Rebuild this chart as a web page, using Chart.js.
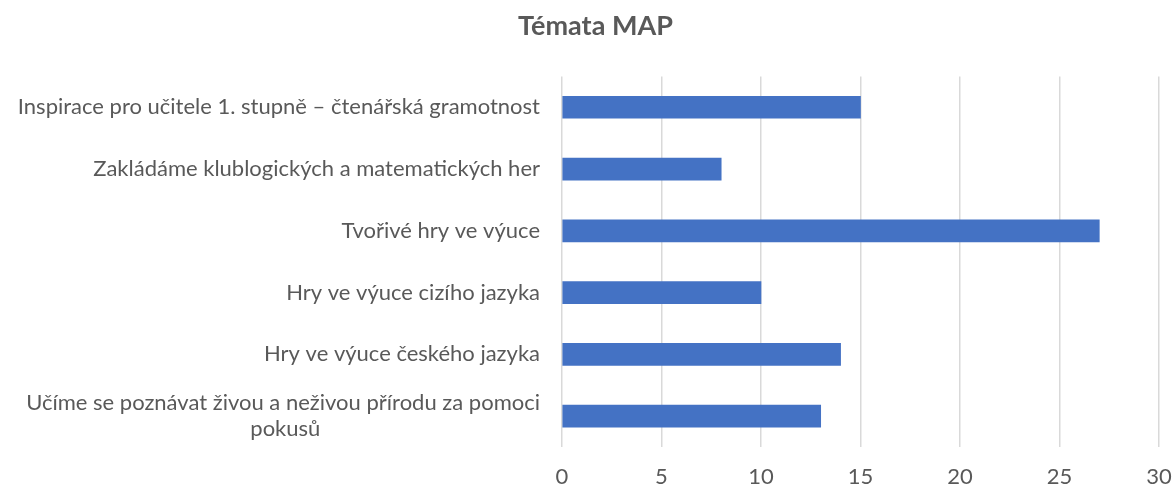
<!DOCTYPE html>
<html>
<head>
<meta charset="utf-8">
<script src="https://cdn.jsdelivr.net/npm/chart.js@4"></script>
<style>
  html, body { margin: 0; padding: 0; background: #fff; }
  #wrap { width: 1173px; height: 485px; }
</style>
</head>
<body>
<div id="wrap"><canvas id="mapChart"></canvas></div>
<script>
// data
const title = 'Témata MAP';
const categories = [
  'Inspirace pro učitele 1. stupně – čtenářská gramotnost',
  'Zakládáme klublogických a matematických her',
  'Tvořivé hry ve výuce',
  'Hry ve výuce cizího jazyka',
  'Hry ve výuce českého jazyka',
  ['Učíme se poznávat živou a neživou přírodu za pomoci', 'pokusů']
];
const values = [15, 8, 27, 10, 14, 13];
const xTicks = [0, 5, 10, 15, 20, 25, 30];

const FONT = 'Lato, "Open Sans", sans-serif';
const GREY = '#595959';
const LABEL_SIZE = 22;

// second line of a wrapped label is centred under the first one (like Excel does)
function centreLines(lbl) {
  if (!Array.isArray(lbl)) return lbl;
  const ctx = document.createElement('canvas').getContext('2d');
  ctx.font = LABEL_SIZE + 'px ' + FONT;
  const w0 = ctx.measureText(lbl[0]).width;
  const sp = ctx.measureText(' ').width;
  return lbl.map((line, i) => {
    if (i === 0) return line;
    const n = Math.max(0, Math.round((w0 - ctx.measureText(line).width) / 2 / sp));
    return line + ' '.repeat(n);
  });
}

// title in the original sits a bit right of the canvas centre
const titleShift = {
  id: 'titleShift',
  afterLayout(chart) {
    if (chart.titleBlock) chart.titleBlock.left += 32;
  }
};

function draw() {
  const ctx = document.getElementById('mapChart').getContext('2d');
  new Chart(ctx, {
    type: 'bar',
    data: {
      labels: categories.map(centreLines),
      datasets: [{
        label: 'Témata',
        data: values,
        backgroundColor: '#4472c4',
        borderWidth: 0,
        barThickness: 22
      }]
    },
    options: {
      indexAxis: 'y',
      responsive: true,
      maintainAspectRatio: false,
      animation: false,
      layout: { padding: { left: 0, right: 14, top: 0, bottom: 0 } },
      plugins: {
        legend: { display: false },
        tooltip: { enabled: false },
        title: {
          display: true,
          text: title,
          color: GREY,
          font: { family: FONT, size: 27, weight: 'bold' },
          padding: { top: 10, bottom: 34 }
        }
      },
      scales: {
        x: {
          min: 0,
          max: 30,
          afterBuildTicks: s => { s.ticks = xTicks.map(v => ({ value: v })); },
          afterFit: s => { s.height = 38; s.paddingLeft = 0; s.paddingRight = 0; },
          grid: { color: '#d9d9d9', lineWidth: 1.5, drawTicks: false },
          border: { display: false },
          ticks: {
            color: GREY,
            padding: 17,
            font: { family: FONT, size: LABEL_SIZE }
          }
        },
        y: {
          afterFit: s => { s.width = 562; },
          grid: { display: false, drawTicks: false },
          border: { display: false },
          ticks: {
            color: GREY,
            padding: 22,
            autoSkip: false,
            font: { family: FONT, size: LABEL_SIZE, lineHeight: 1.2 }
          }
        }
      }
    },
    plugins: [titleShift]
  });
}

if (document.fonts && document.fonts.load) {
  Promise.all([
    document.fonts.load(LABEL_SIZE + 'px Lato'),
    document.fonts.load('bold 27px Lato')
  ]).then(draw, draw);
} else {
  draw();
}
</script>
</body>
</html>
